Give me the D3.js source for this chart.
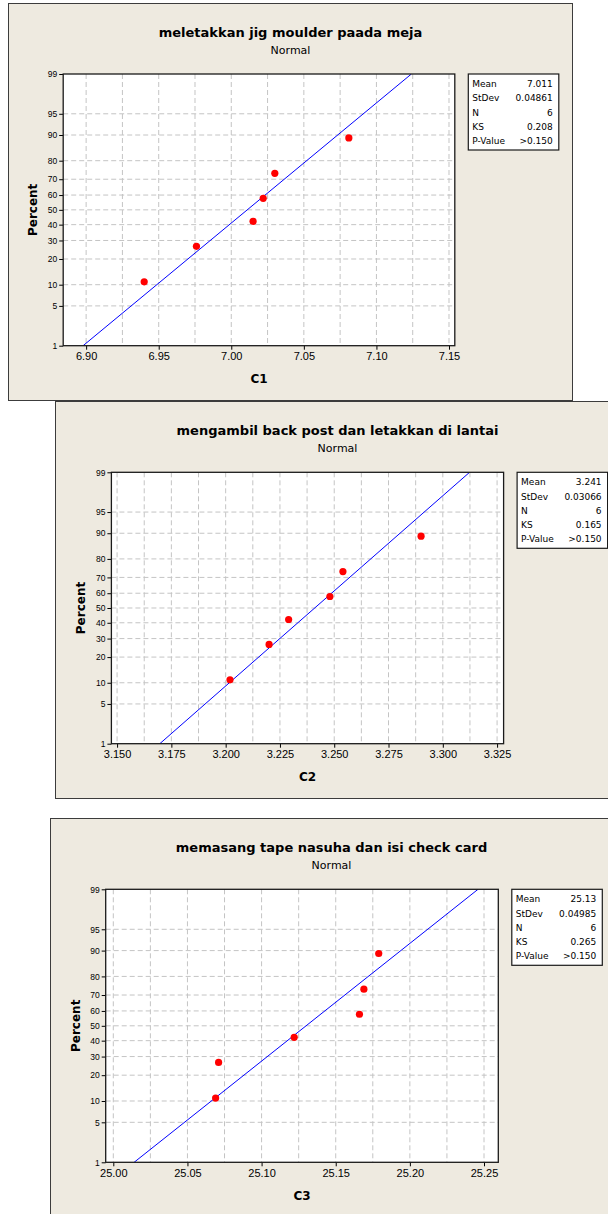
<!DOCTYPE html>
<html>
<head>
<meta charset="utf-8">
<script src="https://cdn.jsdelivr.net/npm/d3@7"></script>
<style>
  html, body { margin: 0; padding: 0; background: #fff; }
  svg { display: block; font-family: 'DejaVu Sans', Verdana, sans-serif; }
</style>
</head>
<body>
<svg id="chart" width="608" height="1214"></svg>
<script>
'use strict';

// --- data ---
const panelTitles = [
  'meletakkan jig moulder paada meja',
  'mengambil back post dan letakkan di lantai',
  'memasang tape nasuha dan isi check card'
];
const subTitle = 'Normal';
const xLabels = ['C1', 'C2', 'C3'];
const yLabel = 'Percent';

const c1Values = [6.940, 6.976, 7.015, 7.022, 7.030, 7.081];
const c2Values = [3.202, 3.220, 3.229, 3.248, 3.254, 3.290];
const c3Values = [25.069, 25.071, 25.122, 25.166, 25.169, 25.179];
const percentValues = [10.9, 26.6, 42.2, 57.8, 73.4, 89.1];

const percentTicks = [1, 5, 10, 20, 30, 40, 50, 60, 70, 80, 90, 95, 99];
const c1Ticks = ['6.90', '6.95', '7.00', '7.05', '7.10', '7.15'];
const c2Ticks = ['3.150', '3.175', '3.200', '3.225', '3.250', '3.275', '3.300', '3.325'];
const c3Ticks = ['25.00', '25.05', '25.10', '25.15', '25.20', '25.25'];

const statNames = ['Mean', 'StDev', 'N', 'KS', 'P-Value'];
const c1Stats = ['7.011', '0.04861', '6', '0.208', '>0.150'];
const c2Stats = ['3.241', '0.03066', '6', '0.165', '>0.150'];
const c3Stats = ['25.13', '0.04985', '6', '0.265', '>0.150'];

// --- layout of the three Minitab graph windows ---
const panels = [
  { title: panelTitles[0], xLabel: xLabels[0], values: c1Values, ticks: c1Ticks, stats: c1Stats,
    frame: { x: 8.5, y: 3.5, w: 564, h: 397 }, plot: { x: 63.2, y: 74, w: 391.6, h: 271.7 },
    domain: [6.8842, 7.154] },
  { title: panelTitles[1], xLabel: xLabels[1], values: c2Values, ticks: c2Ticks, stats: c2Stats,
    frame: { x: 55.5, y: 401.5, w: 564, h: 397 }, plot: { x: 111.4, y: 472.3, w: 392.2, h: 271.4 },
    domain: [3.14738, 3.3280] },
  { title: panelTitles[2], xLabel: xLabels[2], values: c3Values, ticks: c3Ticks, stats: c3Stats,
    frame: { x: 50.5, y: 818.5, w: 562, h: 420 }, plot: { x: 105.7, y: 889.3, w: 392.6, h: 273 },
    domain: [24.99487, 25.25964] }
];

// inverse standard normal CDF (Acklam), used for the probability axis
function probit(p) {
  const a = [-39.69683028665376, 220.9460984245205, -275.9285104469687, 138.3577518672690, -30.66479806614716, 2.506628277459239];
  const b = [-54.47609879822406, 161.5858368580409, -155.6989798598866, 66.80131188771972, -13.28068155288572];
  const c = [-0.007784894002430293, -0.3223964580411365, -2.400758277161838, -2.549732539343734, 4.374664141464968, 2.938163982698783];
  const d = [0.007784695709041462, 0.3224671290700398, 2.445134137142996, 3.754408661907416];
  const pl = 0.02425;
  let q, r;
  if (p < pl) {
    q = Math.sqrt(-2 * Math.log(p));
    return (((((c[0]*q+c[1])*q+c[2])*q+c[3])*q+c[4])*q+c[5]) / ((((d[0]*q+d[1])*q+d[2])*q+d[3])*q+1);
  }
  if (p > 1 - pl) {
    q = Math.sqrt(-2 * Math.log(1 - p));
    return -(((((c[0]*q+c[1])*q+c[2])*q+c[3])*q+c[4])*q+c[5]) / ((((d[0]*q+d[1])*q+d[2])*q+d[3])*q+1);
  }
  q = p - 0.5; r = q * q;
  return (((((a[0]*r+a[1])*r+a[2])*r+a[3])*r+a[4])*r+a[5])*q / (((((b[0]*r+b[1])*r+b[2])*r+b[3])*r+b[4])*r+1);
}

const svg = d3.select('#chart');
const bg = '#EEEAE0';

panels.forEach((p, i) => {
  const f = p.frame, pl = p.plot;
  const root = svg.append('g');

  root.append('rect')
    .attr('x', f.x).attr('y', f.y).attr('width', f.w).attr('height', f.h)
    .attr('fill', bg).attr('stroke', '#3c3c3c').attr('stroke-width', 1);

  const cx = f.x + f.w / 2;
  root.append('text')
    .attr('x', cx).attr('y', pl.y - 37.5)
    .attr('text-anchor', 'middle').attr('font-size', 13).attr('font-weight', 'bold')
    .text(p.title);
  root.append('text')
    .attr('x', cx).attr('y', pl.y - 20)
    .attr('text-anchor', 'middle').attr('font-size', 11)
    .text(subTitle);

  const x = d3.scaleLinear().domain(p.domain).range([0, pl.w]);
  const zMax = probit(0.99);
  const y = d3.scaleLinear().domain([-zMax, zMax]).range([pl.h, 0]);
  const yp = (v) => y(probit(v / 100));

  const g = root.append('g').attr('transform', 'translate(' + pl.x + ',' + pl.y + ')');

  g.append('rect').attr('width', pl.w).attr('height', pl.h).attr('fill', '#fff');

  // grid: every tick and the midpoints between them
  const tickVals = p.ticks.map(Number);
  const gridVals = tickVals.concat(d3.pairs(tickVals).map((t) => (t[0] + t[1]) / 2));
  g.selectAll('.vgrid').data(gridVals).enter().append('line')
    .attr('x1', (d) => x(d)).attr('x2', (d) => x(d))
    .attr('y1', 0).attr('y2', pl.h)
    .attr('stroke', '#c4c4c4').attr('stroke-dasharray', '5,3');
  g.selectAll('.hgrid').data(percentTicks.slice(1, -1)).enter().append('line')
    .attr('x1', 0).attr('x2', pl.w)
    .attr('y1', (d) => yp(d)).attr('y2', (d) => yp(d))
    .attr('stroke', '#c4c4c4').attr('stroke-dasharray', '5,3');

  // fitted normal line from mean and stdev
  const mean = +p.stats[0], sd = +p.stats[1];
  const clipId = 'clip' + i;
  g.append('clipPath').attr('id', clipId).append('rect').attr('width', pl.w).attr('height', pl.h);
  g.append('line')
    .attr('clip-path', 'url(#' + clipId + ')')
    .attr('x1', x(mean - zMax * sd)).attr('y1', y(-zMax))
    .attr('x2', x(mean + zMax * sd)).attr('y2', y(zMax))
    .attr('stroke', '#0000ff').attr('stroke-width', 1);

  // axes
  const xAxis = g.append('g').attr('transform', 'translate(0,' + pl.h + ')')
    .call(d3.axisBottom(x).tickValues(tickVals).tickFormat((d, k) => p.ticks[k]).tickSize(4).tickPadding(3));
  xAxis.selectAll('text').attr('font-size', 11).attr('fill', '#000').attr('font-family', null);
  xAxis.select('.domain').remove();

  const yAxis = g.append('g')
    .call(d3.axisLeft(y).tickValues(percentTicks.map((v) => probit(v / 100)))
      .tickFormat((d, k) => percentTicks[k]).tickSize(4).tickPadding(2));
  yAxis.selectAll('text').attr('font-size', 8.5).attr('fill', '#000').attr('font-family', null);
  yAxis.select('.domain').remove();

  g.append('rect').attr('width', pl.w).attr('height', pl.h)
    .attr('fill', 'none').attr('stroke', '#1a1a1a').attr('stroke-width', 1.3);

  // points
  g.selectAll('.pt').data(p.values).enter().append('circle')
    .attr('cx', (d) => x(d))
    .attr('cy', (d, k) => yp(percentValues[k]))
    .attr('r', 3.6).attr('fill', '#ff0000');

  // axis titles
  g.append('text')
    .attr('x', pl.w / 2).attr('y', pl.h + 37.5)
    .attr('text-anchor', 'middle').attr('font-size', 12).attr('font-weight', 'bold')
    .text(p.xLabel);
  g.append('text')
    .attr('transform', 'translate(-26,' + (pl.h / 2) + ') rotate(-90)')
    .attr('text-anchor', 'middle').attr('font-size', 12).attr('font-weight', 'bold')
    .text(yLabel);

  // stats box
  const lg = root.append('g').attr('transform', 'translate(' + (pl.x + pl.w + 13.5) + ',' + pl.y + ')');
  lg.append('rect').attr('width', 90.5).attr('height', 76)
    .attr('fill', '#fff').attr('stroke', '#1a1a1a').attr('stroke-width', 1.2);
  statNames.forEach((name, k) => {
    lg.append('text').attr('x', 4).attr('y', 13 + k * 14.3).attr('font-size', 9).text(name);
    lg.append('text').attr('x', 84.5).attr('y', 13 + k * 14.3).attr('font-size', 9)
      .attr('text-anchor', 'end').text(p.stats[k]);
  });
});
</script>
</body>
</html>
